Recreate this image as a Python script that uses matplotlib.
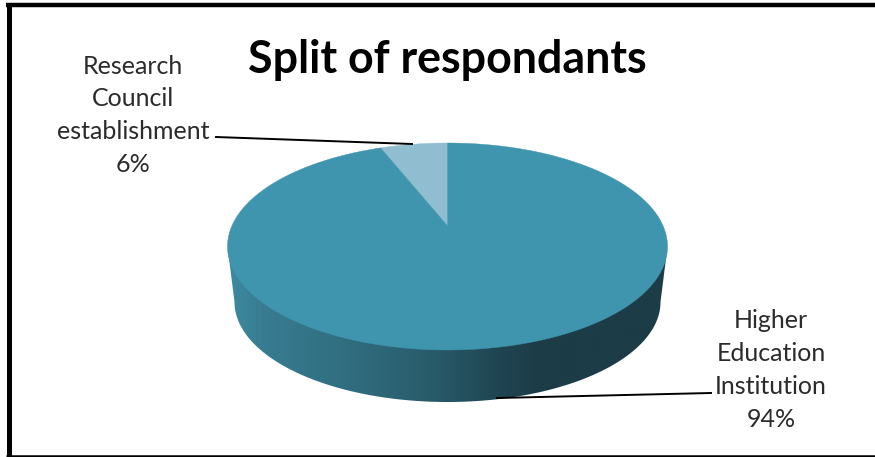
import numpy as np
import matplotlib
matplotlib.use('Agg')
import matplotlib.pyplot as plt
from matplotlib.colors import LinearSegmentedColormap
from matplotlib.patches import Polygon

title = 'Split of respondants'
categories = ['Research\nCouncil\nestablishment', 'Higher\nEducation\nInstitution']
shares = [6, 94]
slice_colors = ['#90bdd0', '#4095ae']

# pie geometry in image pixels
cx, cy = 447.5, 246.5
rx, ry = 220, 103.5
persp = 0.2          # moves the slice apex up, like the 3d tilt does
base_cy, base_rx, base_ry = 302, 213, 100

wall_stops = [(228, '#3d899e'), (262, '#387c91'), (350, '#306d7f'), (430, '#295c6b'),
              (495, '#204653'), (545, '#1c3c47'), (667, '#1c3c47')]

plt.rcParams['font.family'] = ['Lato', 'DejaVu Sans']


def top_point(theta, r=1.0):
    # theta counted from 12 o'clock, going anticlockwise
    X = -r * np.sin(theta)
    Y = r * np.cos(theta)
    w = 1 + persp * Y
    x = np.sqrt(1 - persp ** 2) * X / w
    y = (Y + persp) / w
    return cx + rx * x, cy - ry * y


def draw_multiline(ax, x, y0, text, pct):
    lines = text.split('\n') + [f'{pct}%']
    for i, line in enumerate(lines):
        ax.text(x, y0 + 32.7 * i, line, ha='center', va='center', fontsize=18, color='#2b2b2b')


fig = plt.figure(figsize=(8.75, 4.57), dpi=100)
ax = fig.add_axes([0, 0, 1, 1])
ax.set_xlim(0, 875)
ax.set_ylim(457, 0)
ax.axis('off')

# side wall with the horizontal shading
t = np.linspace(0, np.pi, 200)
wall_x = np.r_[cx - rx, cx - base_rx * np.cos(t), cx + rx]
wall_y = np.r_[cy, base_cy + base_ry * np.sin(t), cy]
stops = [((x - 228) / (667 - 228), c) for x, c in wall_stops]
cmap = LinearSegmentedColormap.from_list('wall', stops)
img = ax.imshow(np.linspace(0, 1, 440).reshape(1, -1), extent=[228, 667, 410, 240], cmap=cmap, aspect='auto', zorder=1)
clip = Polygon(np.c_[wall_x, wall_y], closed=True, transform=ax.transData, fc='none', ec='none')
ax.add_patch(clip)
img.set_clip_path(clip)
ax.set_xlim(0, 875)
ax.set_ylim(457, 0)

# top face, slices start at 12 o'clock
start = 0
for share, color in zip(shares, slice_colors):
    end = start + 2 * np.pi * share / sum(shares)
    th = np.linspace(start, end, 300)
    xs, ys = top_point(th)
    apex_x, apex_y = top_point(0.0, 0.0)
    ax.fill(np.r_[apex_x, xs], np.r_[apex_y, ys], color=color, lw=0.3, zorder=2)
    start = end

# leader lines
ax.plot([216, 412], [137, 144], color='black', lw=1.4, zorder=3)
ax.plot([497, 711], [398, 393], color='black', lw=1.4, zorder=3)

ax.text(447, 60, title, ha='center', va='center', fontsize=32.2, fontweight='bold', color='black')
draw_multiline(ax, 133, 66, categories[0], shares[0])
draw_multiline(ax, 771, 321, categories[1], shares[1])

# picture frame, no line on the right
ax.plot([8.5, 8.5], [5, 457], color='black', lw=3.6, clip_on=False, solid_capstyle='butt')
ax.plot([6, 875], [5, 5], color='black', lw=3.2, clip_on=False, solid_capstyle='butt')
ax.plot([6, 875], [456, 456], color='black', lw=1.8, clip_on=False, solid_capstyle='butt')

fig.savefig('out.png', dpi=100)
